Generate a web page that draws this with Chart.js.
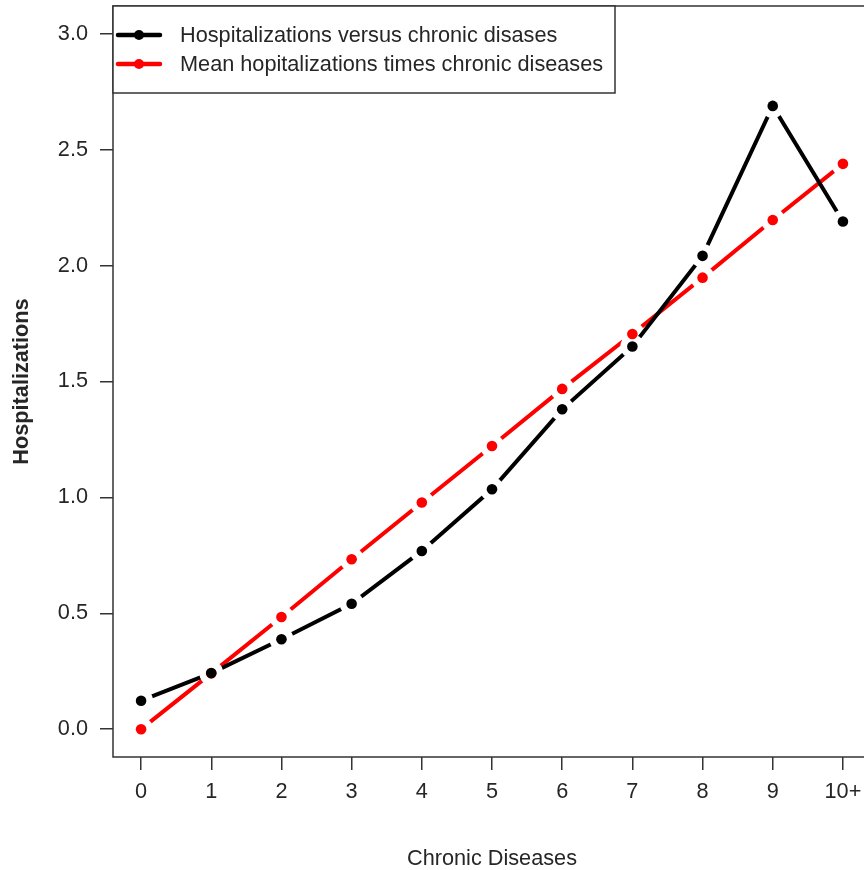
<!DOCTYPE html>
<html>
<head>
<meta charset="utf-8">
<script src="https://cdn.jsdelivr.net/npm/chart.js@4/dist/chart.umd.min.js"></script>
<style>
html,body{margin:0;padding:0;background:#fff;overflow:hidden;width:864px;height:870px;position:relative;}
#wrap{position:absolute;left:0;top:-6px;width:883px;height:876px;}
</style>
</head>
<body>
<div id="wrap"><canvas id="c" width="883" height="876"></canvas></div>
<script>
// ---- data ----
const categories = ['0','1','2','3','4','5','6','7','8','9','10+'];
const xPositions = [0,1,2,3,4,5,6,7,8,9,10];
const hospVsChronic = [0.123, 0.242, 0.388, 0.541, 0.769, 1.035, 1.380, 1.651, 2.042, 2.689, 2.190];
const meanHospTimesChronic = [0.000, 0.241, 0.484, 0.733, 0.978, 1.222, 1.468, 1.705, 1.948, 2.197, 2.439];
const yTicks = [0, 0.5, 1.0, 1.5, 2.0, 2.5, 3.0];
const seriesLabels = ['Hospitalizations versus chronic disases', 'Mean hopitalizations times chronic diseases'];
const seriesColors = ['#000000', '#ff0000'];
const xTitle = 'Chronic Diseases';
const yTitle = 'Hospitalizations';

const pts = arr => arr.map((v, i) => ({x: xPositions[i], y: v}));
const FONT = "'Liberation Sans', Arial, sans-serif";
const FS = 21.7;
const TEXT = '#262626';

function lineDs(label, arr, color, order) {
  return {
    label, data: pts(arr), borderColor: color, borderWidth: 4,
    borderCapStyle: 'round', showLine: true, fill: false, tension: 0,
    pointRadius: 12, pointBackgroundColor: '#ffffff', pointBorderWidth: 0,
    pointBorderColor: '#ffffff', pointHoverRadius: 12, order
  };
}
function dotDs(label, arr, color, order) {
  return {
    label, data: pts(arr), showLine: false, borderColor: color,
    pointRadius: 5.3, pointBackgroundColor: color, pointBorderWidth: 0,
    pointHoverRadius: 5.3, order
  };
}

const framePlugin = {
  id: 'frame',
  afterDraw(chart) {
    const {ctx, chartArea: a} = chart;
    ctx.save();
    ctx.strokeStyle = '#333333';
    ctx.lineWidth = 1.5;
    ctx.strokeRect(a.left, a.top, a.right - a.left, a.bottom - a.top);
    // legend box
    const lx = a.left, ly = a.top, lw = 502, lh = 87;
    ctx.fillStyle = '#ffffff';
    ctx.fillRect(lx, ly, lw, lh);
    ctx.strokeRect(lx, ly, lw, lh);
    const rows = [ly + 29, ly + 58];
    ctx.font = FS + 'px ' + FONT;
    ctx.textBaseline = 'middle';
    ctx.textAlign = 'left';
    for (let i = 0; i < 2; i++) {
      const y = rows[i];
      ctx.strokeStyle = seriesColors[i];
      ctx.lineWidth = 4.5;
      ctx.lineCap = 'round';
      ctx.beginPath();
      ctx.moveTo(lx + 5, y);
      ctx.lineTo(lx + 47, y);
      ctx.stroke();
      ctx.fillStyle = seriesColors[i];
      ctx.beginPath();
      ctx.arc(lx + 26, y, 5, 0, Math.PI * 2);
      ctx.fill();
      ctx.fillStyle = TEXT;
      ctx.fillText(seriesLabels[i], lx + 67, y + 1);
    }
    ctx.restore();
  }
};

new Chart(document.getElementById('c'), {
  type: 'scatter',
  data: {
    datasets: [
      lineDs(seriesLabels[0], hospVsChronic, seriesColors[0], 3),
      lineDs(seriesLabels[1], meanHospTimesChronic, seriesColors[1], 4),
      dotDs(seriesLabels[0], hospVsChronic, seriesColors[0], 1),
      dotDs(seriesLabels[1], meanHospTimesChronic, seriesColors[1], 2)
    ]
  },
  options: {
    responsive: false,
    animation: false,
    devicePixelRatio: 1,
    layout: {padding: {top: 0, right: 0, left: 0, bottom: 0}},
    plugins: {legend: {display: false}, tooltip: {enabled: false}},
    scales: {
      x: {
        type: 'linear', min: -0.4, max: 10.4,
        afterBuildTicks: s => { s.ticks = xPositions.map(v => ({value: v})); },
        afterFit: s => { s.height = 113; s.paddingLeft = 0; s.paddingRight = 0; },
        grid: {display: true, drawOnChartArea: false, drawTicks: true, tickLength: 13, color: '#333333', lineWidth: 1.5},
        border: {display: false},
        ticks: {
          autoSkip: false, maxRotation: 0, padding: 9,
          font: {family: FONT, size: FS}, color: TEXT,
          callback: v => categories[xPositions.indexOf(v)]
        },
        title: {display: true, text: xTitle, font: {family: FONT, size: FS}, color: TEXT, padding: {top: 0, bottom: -2}}
      },
      y: {
        type: 'linear', min: -0.12, max: 3.12,
        afterBuildTicks: s => { s.ticks = yTicks.map(v => ({value: v})); },
        afterFit: s => { s.width = 113; s.paddingTop = 0; s.paddingBottom = 0; },
        grid: {display: true, drawOnChartArea: false, drawTicks: true, tickLength: 13, color: '#333333', lineWidth: 1.5},
        border: {display: false},
        ticks: {
          padding: 12,
          font: {family: FONT, size: FS}, color: TEXT,
          callback: v => v.toFixed(1)
        },
        title: {display: true, text: yTitle, font: {family: FONT, size: FS, weight: 'bold'}, color: TEXT, padding: {top: 9, bottom: 0}}
      }
    }
  },
  plugins: [framePlugin]
});
</script>
</body>
</html>
